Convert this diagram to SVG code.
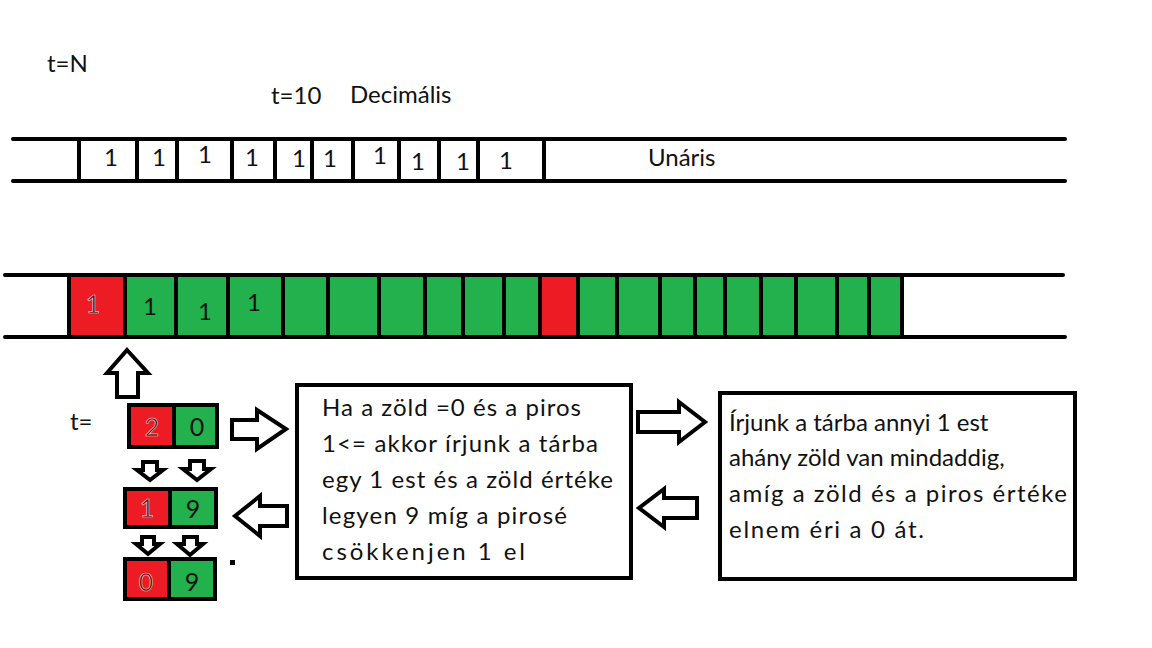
<svg xmlns="http://www.w3.org/2000/svg" width="1152" height="648" viewBox="0 0 1152 648">
<style>
.t{font-family:Lato,"Liberation Sans",Arial,sans-serif;font-size:24px;fill:#111}
.d{font-family:Lato,"Liberation Sans",Arial,sans-serif;font-size:24px;fill:#111;text-anchor:middle}
.dr{font-family:Lato,"Liberation Sans",Arial,sans-serif;font-size:25px;fill:#4a0a0a;stroke:#f4c8c8;stroke-width:0.7;text-anchor:middle}
.dg{font-family:Lato,"Liberation Sans",Arial,sans-serif;font-size:25px;fill:#111;text-anchor:middle}
.ln{stroke:#000;stroke-width:4;stroke-linecap:round}
.cell{stroke:#000;stroke-width:4}
.r{fill:#ED1C24}
.g{fill:#22B14C}
.arr{fill:#fff;stroke:#000;stroke-width:4;stroke-linejoin:miter}
.box{fill:#fff;stroke:#000;stroke-width:4}
</style>
<rect width="1152" height="648" fill="#fff"/>

<g id="labels">
<text class="t" x="47" y="72">t=N</text>
<text class="t" x="271" y="104">t=10</text>
<text class="t" x="350" y="103">Decimális</text>
<text class="t" x="70" y="430">t=</text>
</g>

<g id="unary-tape">
<line class="ln" x1="13" y1="139" x2="1065" y2="139"/>
<line class="ln" x1="13" y1="181" x2="1065" y2="181"/>
<g class="ln">
<line x1="79" y1="139" x2="79" y2="181"/>
<line x1="137" y1="139" x2="137" y2="181"/>
<line x1="177" y1="139" x2="177" y2="181"/>
<line x1="232" y1="139" x2="232" y2="181"/>
<line x1="275" y1="139" x2="275" y2="181"/>
<line x1="312" y1="139" x2="312" y2="181"/>
<line x1="353" y1="139" x2="353" y2="181"/>
<line x1="399" y1="139" x2="399" y2="181"/>
<line x1="439" y1="139" x2="439" y2="181"/>
<line x1="478" y1="139" x2="478" y2="181"/>
<line x1="544" y1="139" x2="544" y2="181"/>
</g>
<text class="d" x="111" y="166">1</text>
<text class="d" x="159" y="166">1</text>
<text class="d" x="205" y="163">1</text>
<text class="d" x="252" y="166">1</text>
<text class="d" x="299" y="167">1</text>
<text class="d" x="330" y="167">1</text>
<text class="d" x="380" y="164">1</text>
<text class="d" x="418" y="170">1</text>
<text class="d" x="463" y="170">1</text>
<text class="d" x="506" y="169">1</text>
<text class="t" x="648" y="166">Unáris</text>
</g>

<g id="work-tape">
<line class="ln" x1="5" y1="275" x2="1063" y2="275"/>
<line class="ln" x1="5" y1="337" x2="1065" y2="337"/>
<rect class="cell r" x="69" y="275" width="56" height="62"/>
<rect class="cell g" x="125" y="275" width="51" height="62"/>
<rect class="cell g" x="176" y="275" width="52" height="62"/>
<rect class="cell g" x="228" y="275" width="55" height="62"/>
<rect class="cell g" x="283" y="275" width="45" height="62"/>
<rect class="cell g" x="328" y="275" width="51" height="62"/>
<rect class="cell g" x="379" y="275" width="46" height="62"/>
<rect class="cell g" x="425" y="275" width="38" height="62"/>
<rect class="cell g" x="463" y="275" width="41" height="62"/>
<rect class="cell g" x="504" y="275" width="36" height="62"/>
<rect class="cell r" x="540" y="275" width="38" height="62"/>
<rect class="cell g" x="578" y="275" width="39" height="62"/>
<rect class="cell g" x="617" y="275" width="43" height="62"/>
<rect class="cell g" x="660" y="275" width="35" height="62"/>
<rect class="cell g" x="695" y="275" width="30" height="62"/>
<rect class="cell g" x="725" y="275" width="36" height="62"/>
<rect class="cell g" x="761" y="275" width="35" height="62"/>
<rect class="cell g" x="796" y="275" width="41" height="62"/>
<rect class="cell g" x="837" y="275" width="32" height="62"/>
<rect class="cell g" x="869" y="275" width="33" height="62"/>
<text class="dr" x="93" y="313">1</text>
<text class="d" x="150" y="315">1</text>
<text class="d" x="205" y="320">1</text>
<text class="d" x="254" y="311">1</text>
</g>

<g id="counter-1">
<rect class="cell r" x="129" y="405" width="45" height="42"/>
<rect class="cell g" x="174" y="405" width="43" height="42"/>
<text class="dr" x="152" y="436">2</text>
<text class="dg" x="197" y="436">0</text>
</g>

<g id="counter-2">
<rect class="cell r" x="125" y="489" width="45" height="38"/>
<rect class="cell g" x="170" y="489" width="46" height="38"/>
<text class="dr" x="147" y="517">1</text>
<text class="dg" x="193" y="518">9</text>
</g>

<g id="counter-3">
<rect class="cell r" x="125" y="559" width="44" height="40"/>
<rect class="cell g" x="169" y="559" width="46" height="40"/>
<text class="dr" x="146" y="591">0</text>
<text class="dg" x="192" y="591">9</text>
<rect x="230" y="560" width="5" height="5" fill="#000"/>
</g>

<g id="box-rule">
<rect class="box" x="297" y="385" width="334" height="193"/>
<text class="t" x="322" y="416" textLength="259" lengthAdjust="spacing">Ha a zöld =0 és a piros</text>
<text class="t" x="322" y="452" textLength="276" lengthAdjust="spacing">1&lt;= akkor írjunk a tárba</text>
<text class="t" x="322" y="488" textLength="291" lengthAdjust="spacing">egy 1 est és a zöld értéke</text>
<text class="t" x="322" y="524" textLength="245" lengthAdjust="spacing">legyen 9 míg a pirosé</text>
<text class="t" x="322" y="560" textLength="203" lengthAdjust="spacing">csökkenjen 1 el</text>
</g>

<g id="box-write">
<rect class="box" x="720" y="393" width="355" height="186"/>
<text class="t" x="729" y="431">Írjunk a tárba annyi 1 est</text>
<text class="t" x="729" y="466">ahány zöld van mindaddig,</text>
<text class="t" x="729" y="502" textLength="338" lengthAdjust="spacing">amíg a zöld és a piros értéke</text>
<text class="t" x="729" y="538" textLength="195" lengthAdjust="spacing">elnem éri a 0 át.</text>
</g>

<g id="connectors">
<path class="arr" d="M127,350 L148,373 L138,373 L138,397 L117,397 L117,373 L107,373 Z"/>
<path class="arr" d="M232,420 L257,420 L257,410 L286,429 L257,449 L257,439 L232,439 Z"/>
<path class="arr" d="M287,506 L260,506 L260,496 L235,516 L260,536 L260,526 L287,526 Z"/>
<path class="arr" d="M638,412 L679,412 L679,402 L705,422 L679,442 L679,432 L638,432 Z"/>
<path class="arr" d="M697,498 L664,498 L664,489 L639,508 L664,527 L664,518 L697,518 Z"/>
<path class="arr" d="M143,462 L157,462 L157,470 L163,470 L150,480 L137,470 L143,470 Z"/>
<path class="arr" d="M190,461 L204,461 L204,469 L211,469 L197,480 L183,469 L190,469 Z"/>
<path class="arr" d="M142,537 L154,537 L154,544 L160,544 L148,554 L136,544 L142,544 Z"/>
<path class="arr" d="M184,537 L197,537 L197,544 L203,544 L190,555 L177,544 L184,544 Z"/>
</g>
</svg>
